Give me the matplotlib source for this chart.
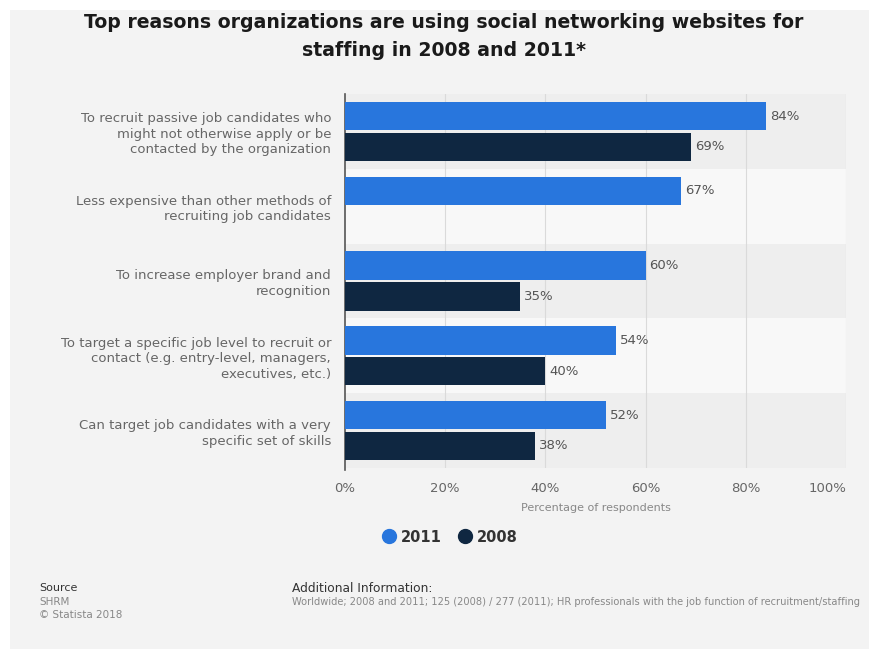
import matplotlib
matplotlib.use("Agg")
import matplotlib.pyplot as plt
from matplotlib.patches import Rectangle
from matplotlib.lines import Line2D
import numpy as np

categories = [
    "To recruit passive job candidates who\nmight not otherwise apply or be\ncontacted by the organization",
    "Less expensive than other methods of\nrecruiting job candidates",
    "To increase employer brand and\nrecognition",
    "To target a specific job level to recruit or\ncontact (e.g. entry-level, managers,\nexecutives, etc.)",
    "Can target job candidates with a very\nspecific set of skills",
]
values_2011 = [84, 67, 60, 54, 52]
values_2008 = [69, None, 35, 40, 38]
series_names = ["2011", "2008"]
x_ticks = [0, 20, 40, 60, 80, 100]

color_2011 = "#2876dd"
color_2008 = "#0f2741"

fig = plt.figure(figsize=(8.69, 6.49), dpi=100)
fig.patch.set_facecolor("white")
# card background
fig.patches.append(Rectangle((10 / 869, -0.05), 1.2, 1.05 - 10 / 649, transform=fig.transFigure,
                             facecolor="#f3f3f3", edgecolor="none", zorder=-10))

ax = fig.add_axes([345 / 869, 1 - 468 / 649, 501 / 869, 374 / 649])
ax.set_facecolor("none")

n = len(categories)
y = np.arange(n)
bar_h = 0.38
off = 0.205

# alternating row bands
band_colors = ["#eeeeee", "#f8f8f8"]
for i in range(n):
    ax.axhspan(i - 0.5, i + 0.5, color=band_colors[i % 2], zorder=0, lw=0)

v11 = np.array(values_2011, dtype=float)
v08 = np.array([np.nan if v is None else v for v in values_2008], dtype=float)

ax.barh(y - off, v11, height=bar_h, color=color_2011, zorder=3)
mask = ~np.isnan(v08)
ax.barh(y[mask] + off, v08[mask], height=bar_h, color=color_2008, zorder=3)

for yi, v in zip(y - off, v11):
    ax.text(v + 0.8, yi, f"{v:.0f}%", va="center", ha="left", fontsize=9.5, color="#555555", zorder=4)
for yi, v in zip(y[mask] + off, v08[mask]):
    ax.text(v + 0.8, yi, f"{v:.0f}%", va="center", ha="left", fontsize=9.5, color="#555555", zorder=4)

ax.set_xlim(0, 100)
ax.set_ylim(n - 0.5, -0.5)
ax.set_xticks(x_ticks)
ax.set_xticklabels([f"{t}%" for t in x_ticks], fontsize=9.5, color="#666666")
ax.get_xticklabels()[-1].set_ha("right")
ax.set_yticks(y)
ax.set_yticklabels(categories, fontsize=9.5, color="#666666", linespacing=1.25)
ax.tick_params(axis="y", length=0, pad=10)
ax.tick_params(axis="x", length=0, pad=10)

for t in x_ticks[1:]:
    ax.axvline(t, color="#dadada", lw=0.8, zorder=1)

for s in ["top", "right", "bottom"]:
    ax.spines[s].set_visible(False)
ax.spines["left"].set_color("#555555")
ax.spines["left"].set_linewidth(1.2)
ax.spines["left"].set_bounds(n - 0.5 + 0.03, -0.5)

ax.set_xlabel("Percentage of respondents", fontsize=8, color="#888888", labelpad=6)

# title
fig.text(444 / 869, 1 - 22 / 649,
         "Top reasons organizations are using social networking websites for",
         ha="center", va="center", fontsize=13.6, fontweight="bold", color="#1a1a1a")
fig.text(444 / 869, 1 - 50 / 649, "staffing in 2008 and 2011*",
         ha="center", va="center", fontsize=13.6, fontweight="bold", color="#1a1a1a")

# legend
handles = [Line2D([0], [0], marker="o", color="none", markerfacecolor=c, markeredgecolor=c,
                  markersize=10) for c in (color_2011, color_2008)]
leg = fig.legend(handles, series_names, loc="center", bbox_to_anchor=(449 / 869, 1 - 537 / 649),
                 ncol=2, frameon=False, handletextpad=0.2, columnspacing=1.0,
                 prop={"size": 10.5, "weight": "bold"}, handlelength=1.2)
for t in leg.get_texts():
    t.set_color("#333333")

# footer
fig.text(39 / 869, 1 - 588 / 649, "Source", fontsize=8, color="#333333", va="center")
fig.text(39 / 869, 1 - 602 / 649, "SHRM", fontsize=7.5, color="#888888", va="center")
fig.text(39 / 869, 1 - 615 / 649, "\u00a9 Statista 2018", fontsize=7.5, color="#888888", va="center")
fig.text(292 / 869, 1 - 588 / 649, "Additional Information:", fontsize=8.8, color="#333333", va="center")
fig.text(292 / 869, 1 - 602 / 649,
         "Worldwide; 2008 and 2011; 125 (2008) / 277 (2011); HR professionals with the job function of recruitment/staffing",
         fontsize=7.1, color="#888888", va="center")

fig.savefig("out.png", dpi=100, facecolor=fig.get_facecolor())
